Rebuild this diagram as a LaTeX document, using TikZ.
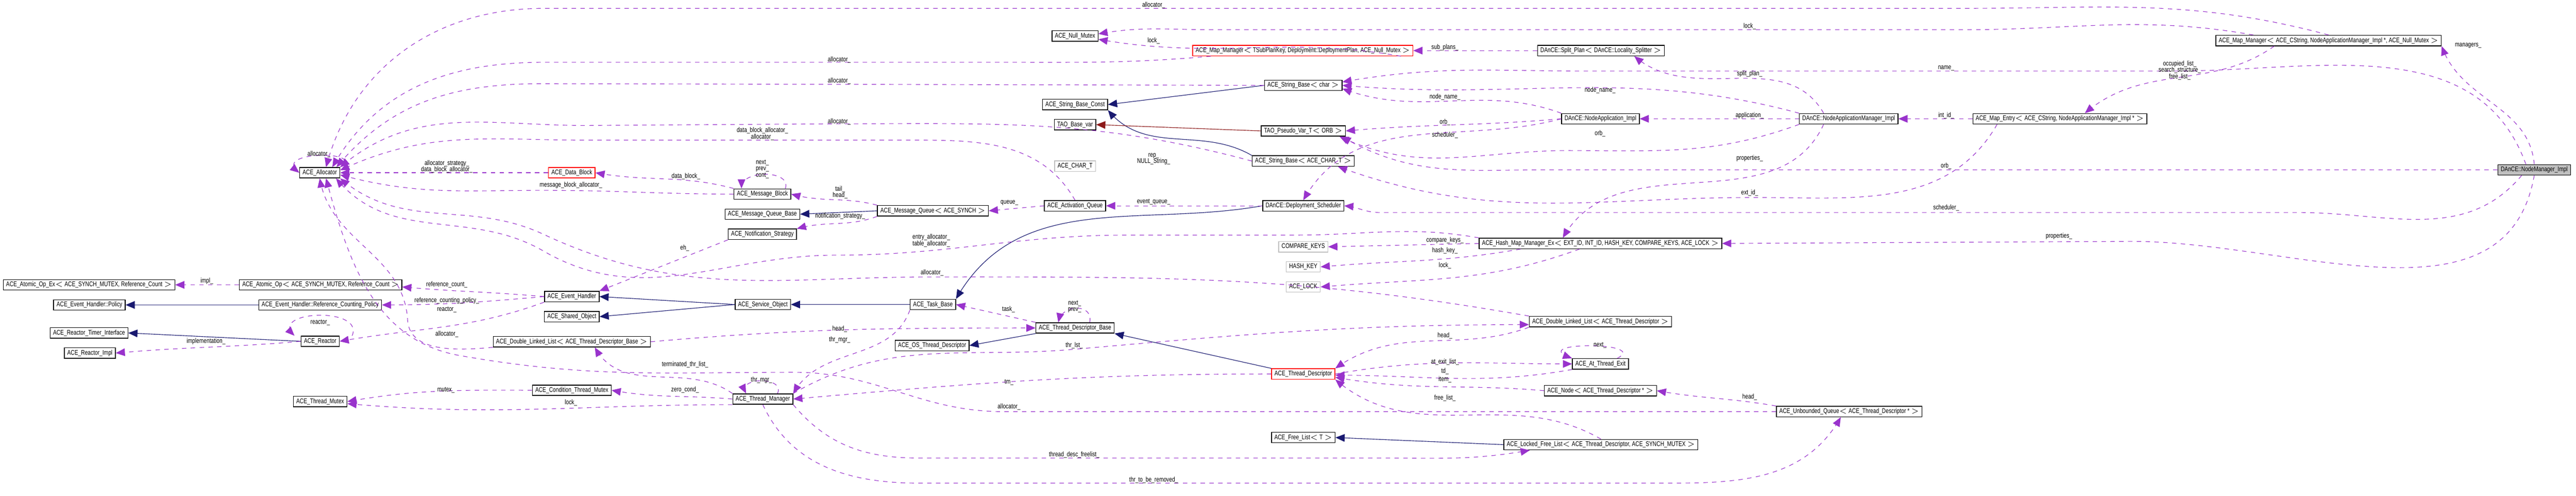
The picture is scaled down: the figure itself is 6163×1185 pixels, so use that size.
\documentclass[tikz,border=0pt]{standalone}
\usepackage{fontspec}
\setmainfont[FakeStretch=0.78]{Liberation Sans}
\usepackage{tikz}
\usetikzlibrary{arrows}
\definecolor{dxpurple}{rgb}{0.60,0.20,0.80}
\definecolor{dxnavy}{rgb}{0.10,0.10,0.44}
\definecolor{dxred}{rgb}{0.55,0.10,0.10}
\definecolor{dxgray}{rgb}{0.75,0.75,0.75}

\begin{document}
\begin{tikzpicture}[x=0.01cm, y=0.01cm, font=\fontsize{4.6}{4.4}\selectfont]
\tikzstyle{cls} = [rectangle, draw=black, line width=0.5pt, minimum height=0.25cm, inner xsep=2pt, inner ysep=1pt]
\tikzstyle{redcls} = [cls, draw=red]
\tikzstyle{extcls} = [cls, draw=dxgray]
\tikzstyle{use} = [-triangle 45, dxpurple, dashed, line width=0.4pt]
\tikzstyle{inherit} = [-triangle 45, dxnavy, line width=0.4pt]
\tikzstyle{tmpl} = [-triangle 45, dxred, line width=0.4pt]
\tikzstyle{lbl} = [inner sep=0pt, align=center]

\useasboundingbox (0,0) rectangle (6163,-1185);

% classes
\node[cls] (alloc) at (765,-413) {ACE\_Allocator};
\node[redcls] (datablk) at (1368,-413) {ACE\_Data\_Block};
\node[cls] (atomicex) at (213,-681) {ACE\_Atomic\_Op\_Ex$<$ ACE\_SYNCH\_MUTEX, Reference\_Count $>$};
\node[cls] (atomic) at (767,-681) {ACE\_Atomic\_Op$<$ ACE\_SYNCH\_MUTEX, Reference\_Count $>$};
\node[cls] (policy) at (214,-729) {ACE\_Event\_Handler::Policy};
\node[cls] (refpolicy) at (766,-729) {ACE\_Event\_Handler::Reference\_Counting\_Policy};
\node[cls] (evh) at (1368,-709) {ACE\_Event\_Handler};
\node[cls] (shared) at (1368,-757) {ACE\_Shared\_Object};
\node[cls] (timer) at (213,-796) {ACE\_Reactor\_Timer\_Interface};
\node[cls] (reactor) at (766,-816) {ACE\_Reactor};
\node[cls] (reactorimpl) at (215,-844) {ACE\_Reactor\_Impl};
\node[cls] (dlltdb) at (1368,-817) {ACE\_Double\_Linked\_List$<$ ACE\_Thread\_Descriptor\_Base $>$};
\node[cls] (condmutex) at (1368,-933) {ACE\_Condition\_Thread\_Mutex};
\node[cls] (thrmutex) at (766,-960) {ACE\_Thread\_Mutex};
\node[cls] (msgblk) at (1824,-464) {ACE\_Message\_Block};
\node[cls] (mqbase) at (1824,-512) {ACE\_Message\_Queue\_Base};
\node[cls] (notif) at (1824,-560) {ACE\_Notification\_Strategy};
\node[cls] (svcobj) at (1825,-728) {ACE\_Service\_Object};
\node[cls] (thrmgr) at (1825,-954) {ACE\_Thread\_Manager};
\node[cls] (nullmutex) at (2572,-86) {ACE\_Null\_Mutex};
\node[cls] (strconst) at (2572,-250) {ACE\_String\_Base\_Const};
\node[cls] (taobase) at (2572,-298) {TAO\_Base\_var};
\node[extcls] (chart) at (2572,-397) {ACE\_CHAR\_T};
\node[cls] (actq) at (2572,-492) {ACE\_Activation\_Queue};
\node[cls] (msgq) at (2232,-504) {ACE\_Message\_Queue$<$ ACE\_SYNCH $>$};
\node[cls] (taskbase) at (2232,-728) {ACE\_Task\_Base};
\node[cls] (tdb) at (2572,-784) {ACE\_Thread\_Descriptor\_Base};
\node[cls] (ostd) at (2230,-826) {ACE\_OS\_Thread\_Descriptor};
\node[redcls] (mapsub) at (3117,-121) {ACE\_Map\_Manager$<$ TSubPlanKey, Deployment::DeploymentPlan, ACE\_Null\_Mutex $>$};
\node[cls] (strchar) at (3118,-204) {ACE\_String\_Base$<$ char $>$};
\node[cls] (taopseudo) at (3118,-313) {TAO\_Pseudo\_Var\_T$<$ ORB $>$};
\node[cls] (strcchar) at (3118,-385) {ACE\_String\_Base$<$ ACE\_CHAR\_T $>$};
\node[cls] (sched) at (3118,-492) {DAnCE::Deployment\_Scheduler};
\node[extcls] (cmpkeys) at (3118,-590) {COMPARE\_KEYS};
\node[extcls] (hashkey) at (3118,-638) {HASH\_KEY};
\node[extcls] (acelock) at (3118,-686) {ACE\_LOCK};
\node[redcls] (td) at (3118,-894) {ACE\_Thread\_Descriptor};
\node[cls] (freelist) at (3118,-1046) {ACE\_Free\_List$<$ T $>$};
\node[cls] (split) at (3830,-121) {DAnCE::Split\_Plan$<$ DAnCE::Locality\_Splitter $>$};
\node[cls] (nodeapp) at (3829,-284) {DAnCE::NodeApplication\_Impl};
\node[cls] (hashmap) at (3829,-582) {ACE\_Hash\_Map\_Manager\_Ex$<$ EXT\_ID, INT\_ID, HASH\_KEY, COMPARE\_KEYS, ACE\_LOCK $>$};
\node[cls] (dlltd) at (3829,-769) {ACE\_Double\_Linked\_List$<$ ACE\_Thread\_Descriptor $>$};
\node[cls] (atexit) at (3829,-870) {ACE\_At\_Thread\_Exit};
\node[cls] (nodeptr) at (3829,-934) {ACE\_Node$<$ ACE\_Thread\_Descriptor * $>$};
\node[cls] (lockedfree) at (3830,-1063) {ACE\_Locked\_Free\_List$<$ ACE\_Thread\_Descriptor, ACE\_SYNCH\_MUTEX $>$};
\node[cls] (nam) at (4423,-284) {DAnCE::NodeApplicationManager\_Impl};
\node[cls] (unbq) at (4424,-984) {ACE\_Unbounded\_Queue$<$ ACE\_Thread\_Descriptor * $>$};
\node[cls] (mapentry) at (4928,-284) {ACE\_Map\_Entry$<$ ACE\_CString, NodeApplicationManager\_Impl * $>$};
\node[cls] (mapmgr) at (5571,-97) {ACE\_Map\_Manager$<$ ACE\_CString, NodeApplicationManager\_Impl *, ACE\_Null\_Mutex $>$};
\node[cls, fill=dxgray] (nodemgr) at (6063,-406) {DAnCE::NodeManager\_Impl};

% inheritance
\path (refpolicy) edge[inherit] (policy);
\path (reactor.west) edge[inherit] (timer.east);
\path (svcobj.west) edge[inherit] (evh.east);
\path (svcobj.west) edge[inherit] (shared.east);
\path (taskbase) edge[inherit] (svcobj);
\path (msgq.west) edge[inherit] (mqbase.east);
\path (strchar.west) edge[inherit] (strconst.east);
\path (strcchar.north west) edge[inherit, out=150, in=-50] (strconst.south east);
\path (taopseudo.west) edge[tmpl] (taobase.east);
\path (sched.west) edge[inherit, out=190, in=60] (taskbase.north east);
\path (tdb.south west) edge[inherit] (ostd.east);
\path (td.north west) edge[inherit] (tdb.south east);
\path (lockedfree.west) edge[inherit] (freelist.east);

% members around the allocator
\draw[use] (alloc.north east) .. controls (880,-360) and (650,-360) .. (alloc.west);
\path (datablk.west) edge[use] (alloc.east);
\draw[use] (msgblk.west) to[out=180,in=0] (1300,-455) to[out=180,in=-15] ([yshift=-0.05cm]alloc.east);
\draw[use] (mapmgr.north) to[out=165,in=0] (4700,-20) -- (1300,-20) to[out=180,in=75] ([xshift=0.15cm]alloc.north);
\draw[use] ([xshift=-2.2cm]mapsub.south) to[out=185,in=0] (2400,-149) -- (1300,-149) to[out=180,in=60] ([xshift=0.3cm]alloc.north);
\draw[use] (strchar.west) -- (1300,-200) to[out=180,in=50] ([xshift=0.4cm]alloc.north);
\draw[use] (strcchar.west) to[out=165,in=0] (2000,-296) -- (1400,-300) to[out=180,in=40] (alloc.north east);
\draw[use] (actq.north) to[out=120,in=0] (2200,-335) -- (1400,-335) to[out=180,in=25] ([yshift=0.06cm]alloc.east);
\draw[use] (dlltd.north west) to[out=170,in=0] (2230,-662) to[out=180,in=-25] (1300,-560) to[out=155,in=-40] (alloc.south east);
\draw[use] (hashmap.north west) to[out=170,in=0] (3100,-562) -- (2700,-562) to[out=180,in=0] (2000,-610) to[out=180,in=-30] (1300,-600) to[out=150,in=-50] ([xshift=-0.1cm]alloc.south east);
\draw[use] (unbq.west) -- (2400,-984) to[out=180,in=0] (1900,-890) to[out=180,in=-10] (1100,-850) to[out=170,in=-75] ([xshift=0.15cm]alloc.south);
\draw[use] (dlltdb.south west) to[out=185,in=-90] (975,-760) to[out=95,in=-80] (alloc.south);

% message group
\path (msgblk.north west) edge[use, out=165, in=-10] (datablk.east);
\draw[use] ([xshift=0.55cm]msgblk.north) .. controls +(15,45) and +(0,45) .. ([xshift=-0.5cm]msgblk.north);
\path (msgq.north west) edge[use, out=165, in=-15] (msgblk.east);
\path (msgq.south west) edge[use, out=200, in=15] (notif.north east);
\path (actq.west) edge[use] (msgq.east);
\path (sched.west) edge[use] (actq.east);
\path (notif.south west) edge[use] (evh.north east);

% event handler group
\path (atomic.west) edge[use] (atomicex.east);
\path (evh.west) edge[use, out=175, in=-5] ([yshift=-0.05cm]atomic.east);
\path (evh.west) edge[use, out=185, in=0] (refpolicy.east);
\path (evh.south west) edge[use, out=200, in=10] (reactor.east);
\draw[use] ([xshift=0.3cm]reactor.north east) .. controls +(30,70) and +(-60,60) .. ([xshift=-0.15cm]reactor.north west);
\path (reactor.west) edge[use, out=185, in=5] (reactorimpl.east);

% thread group
\path (condmutex.west) edge[use, out=180, in=10] (thrmutex.east);
\path (thrmgr.south west) edge[use, out=180, in=-5] ([yshift=-0.05cm]thrmutex.east);
\path (thrmgr.west) edge[use, out=175, in=-10] (condmutex.east);
\path (thrmgr.north west) edge[use, out=145, in=-60] ([xshift=0.55cm]dlltdb.south);
\path (dlltdb.east) edge[use, out=5, in=180] (tdb.west);
\path (tdb.north west) edge[use] (taskbase.east);
\draw[use] ([xshift=0.35cm]tdb.north) .. controls +(10,45) and +(10,45) .. ([xshift=-0.4cm]tdb.north);
\path (taskbase.south west) edge[use, out=-110, in=60] (thrmgr.north east);
\draw[use] ([xshift=0.35cm]thrmgr.north) .. controls +(20,40) and +(-20,40) .. ([xshift=-0.4cm]thrmgr.north);
\path (td.west) edge[use, out=180, in=5] (thrmgr.east);
\draw[use] (thrmgr.north east) to[out=30,in=185] (2570,-835) to[out=5,in=180] ([yshift=-0.07cm]dlltd.west);
\path (dlltd.south west) edge[use, out=-160, in=35] (td.north east);
\path (td.east) edge[use, out=10, in=180] (atexit.west);
\path (atexit.south west) edge[use, out=190, in=0] ([yshift=-0.03cm]td.east);
\draw[use] ([xshift=0.4cm]atexit.north) .. controls +(80,40) and +(-110,40) .. (atexit.north west);
\path (nodeptr.west) edge[use, out=175, in=-10] ([yshift=-0.08cm]td.east);
\path (unbq.north west) edge[use, out=170, in=-10] (nodeptr.east);
\path (lockedfree.north) edge[use, out=150, in=-40] (td.south east);
\draw[use] (thrmgr.south east) to[out=-50,in=180] (2200,-1095) -- (3300,-1095) to[out=0,in=190] ([xshift=-1.7cm]lockedfree.south);
\draw[use] (thrmgr.south) to[out=-65,in=180] (2200,-1155) -- (4000,-1155) to[out=0,in=-120] ([xshift=-0.2cm]unbq.south);

% hash map
\path (hashmap.west) edge[use] (cmpkeys.east);
\path ([xshift=1cm]hashmap.south west) edge[use, out=190, in=5] (hashkey.east);
\path ([xshift=-0.5cm]hashmap.south) edge[use, out=200, in=5] (acelock.east);

% deployment side
\path ([xshift=-0.3cm]mapsub.east |- mapsub.south) edge[use, out=170, in=-10] ([yshift=-0.08cm]nullmutex.east);
\draw[use] ([xshift=-1.8cm]mapmgr.north) to[out=170,in=0] (4700,-71) -- (2900,-71) to[out=180,in=10] ([yshift=0.05cm]nullmutex.east);
\path (split.west) edge[use] (mapsub.east);
\path ([xshift=-0.6cm]nam.north) edge[use, out=120, in=-40] ([xshift=0.8cm]split.south);
\path (nam.west) edge[use] (nodeapp.east);
\path (nam.north west) edge[use, out=165, in=-5] (strchar.east);
\path (nodeapp.north west) edge[use, out=160, in=-20] ([yshift=-0.08cm]strchar.east);
\path (nodeapp.west) edge[use, out=185, in=5] (taopseudo.east);
\path (nodeapp.west) edge[use, out=195, in=60] (sched.north);
\draw[use] (nam.south west) to[out=-160,in=0] (3750,-360) to[out=180,in=-25] ([xshift=-0.15cm]taopseudo.south east);
\path ([xshift=-0.6cm]nam.south) edge[use, out=-115, in=60] ([xshift=-0.9cm]hashmap.north);
\path (mapentry.west) edge[use] (nam.east);
\draw[use] ([xshift=-1.5cm]mapentry.south) to[out=-120,in=0] (4200,-472) to[out=180,in=-20] ([xshift=-0.4cm]strcchar.south east);
\path ([xshift=-1.3cm]mapmgr.south) edge[use, out=-145, in=40] ([xshift=0.6cm]mapentry.north);
\draw[use] ([xshift=-0.2cm]nodemgr.north) to[out=110,in=0] (5200,-170) -- (3800,-170) to[out=180,in=10] ([yshift=0.08cm]strchar.east);
\path (nodemgr.north) edge[use, out=95, in=-70] (mapmgr.south east);
\draw[use] (nodemgr.west) -- (3700,-406) to[out=180,in=-30] ([xshift=-0.1cm]taopseudo.south east);
\draw[use] ([xshift=-0.3cm]nodemgr.south) to[out=-130,in=0] (5500,-508) -- (3300,-508) to[out=180,in=-5] (sched.east);
\draw[use] (nodemgr.south) to[out=-100,in=0] (5100,-577) -- (hashmap.east);

% member names
\node[lbl] (la1) at (763,-368) {allocator\_};
\node[lbl] (la2) at (1069,-398) {allocator\_strategy\_\\data\_block\_allocator\_};
\node[lbl] (la3) at (1366,-443) {message\_block\_allocator\_};
\node[lbl] (la4) at (495,-672) {impl\_};
\node[lbl] (la5) at (1069,-681) {reference\_count\_};
\node[lbl] (la6) at (1069,-719) {reference\_counting\_policy\_};
\node[lbl] (la7) at (1069,-740) {reactor\_};
\node[lbl] (la8) at (766,-771) {reactor\_};
\node[lbl] (la9) at (493,-816) {implementation\_};
\node[lbl] (la10) at (1069,-799) {allocator\_};
\node[lbl] (la11) at (1067,-932) {mutex\_};
\node[lbl] (la12) at (1366,-963) {lock\_};
\node[lbl] (lb1) at (1641,-421) {data\_block\_};
\node[lbl] (lb2) at (1824,-404) {next\_\\prev\_\\cont\_};
\node[lbl] (lb3) at (2010,-460) {tail\_\\head\_};
\node[lbl] (lb4) at (2010,-517) {notification\_strategy\_};
\node[lbl] (lb5) at (1638,-593) {eh\_};
\node[lbl] (lb6) at (1824,-320) {data\_block\_allocator\_\\allocator\_};
\node[lbl] (lc1) at (2760,-13) {allocator\_};
\node[lbl] (lc2) at (2760,-97) {lock\_};
\node[lbl] (lc3) at (2008,-143) {allocator\_};
\node[lbl] (lc4) at (2008,-193) {allocator\_};
\node[lbl] (lc5) at (2008,-291) {allocator\_};
\node[lbl] (lc6) at (2760,-380) {rep\_\\NULL\_String\_};
\node[lbl] (lc7) at (2415,-485) {queue\_};
\node[lbl] (lc8) at (2760,-483) {event\_queue\_};
\node[lbl] (lc9) at (2228,-575) {entry\_allocator\_\\table\_allocator\_};
\node[lbl] (lc10) at (2230,-652) {allocator\_};
\node[lbl] (lc11) at (2413,-739) {task\_};
\node[lbl] (lc12) at (2571,-733) {next\_\\prev\_};
\node[lbl] (lc13) at (2009,-786) {head\_};
\node[lbl] (lc14) at (2009,-812) {thr\_mgr\_};
\node[lbl] (lc15) at (2570,-826) {thr\_lst\_};
\node[lbl] (lc16) at (1639,-871) {terminated\_thr\_list\_};
\node[lbl] (lc17) at (1822,-909) {thr\_mgr\_};
\node[lbl] (lc18) at (1639,-932) {zero\_cond\_};
\node[lbl] (lc19) at (2414,-914) {tm\_};
\node[lbl] (lc20) at (2414,-972) {allocator\_};
\node[lbl] (lc21) at (2570,-1087) {thread\_desc\_freelist\_};
\node[lbl] (lc22) at (2760,-1148) {thr\_to\_be\_removed\_};
\node[lbl] (ld1) at (4186,-63) {lock\_};
\node[lbl] (ld2) at (3457,-113) {sub\_plans\_};
\node[lbl] (ld3) at (4656,-163) {name\_};
\node[lbl] (ld4) at (4186,-177) {split\_plan\_};
\node[lbl] (ld5) at (3828,-216) {node\_name\_};
\node[lbl] (ld6) at (3457,-232) {node\_name\_};
\node[lbl] (ld7) at (4186,-276) {application\_};
\node[lbl] (ld8) at (4656,-276) {int\_id\_};
\node[lbl] (ld9) at (3457,-292) {orb\_};
\node[lbl] (ld10) at (3457,-323) {scheduler\_};
\node[lbl] (ld11) at (3828,-319) {orb\_};
\node[lbl] (ld12) at (4186,-379) {properties\_};
\node[lbl] (ld13) at (4656,-397) {orb\_};
\node[lbl] (ld14) at (4186,-461) {ext\_id\_};
\node[lbl] (ld15) at (4656,-497) {scheduler\_};
\node[lbl] (le1) at (3457,-575) {compare\_keys\_};
\node[lbl] (le2) at (3457,-599) {hash\_key\_};
\node[lbl] (le3) at (3457,-635) {lock\_};
\node[lbl] (le4) at (3457,-802) {head\_};
\node[lbl] (le5) at (3828,-825) {next\_};
\node[lbl] (le6) at (3457,-865) {at\_exit\_list\_};
\node[lbl] (le7) at (3457,-887) {td\_};
\node[lbl] (le8) at (3457,-907) {item\_};
\node[lbl] (le9) at (4186,-949) {head\_};
\node[lbl] (le10) at (3457,-952) {free\_list\_};
\node[lbl] (lf1) at (5905,-109) {managers\_};
\node[lbl] (lf2) at (5215,-168) {occupied\_list\_\\search\_structure\_\\free\_list\_};
\node[lbl] (lf3) at (4926,-565) {properties\_};
\end{tikzpicture}
\end{document}
